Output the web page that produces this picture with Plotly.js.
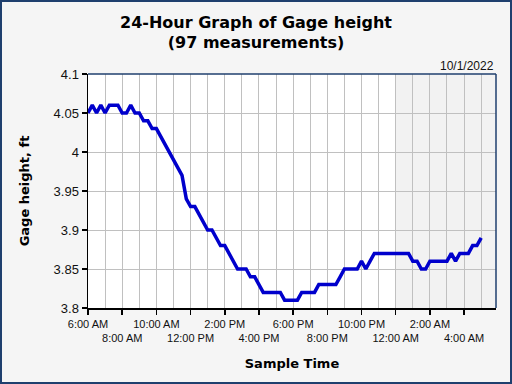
<!DOCTYPE html>
<html>
<head>
<meta charset="utf-8">
<script src="https://cdn.plot.ly/plotly-3.0.1.min.js"></script>
<style>
  html, body { margin: 0; padding: 0; background: #f5f5f5; }
  #wrap { position: relative; width: 512px; height: 384px; }
  #chart { width: 512px; height: 384px; }
  #frame { position: absolute; left: 0; top: 0; width: 508px; height: 380px;
           border: 2px solid #1f3f6e; pointer-events: none; }
</style>
</head>
<body>
<div id="wrap"><div id="chart"></div><div id="frame"></div></div>
<script>
// ---- data ----
const startTime = '2022-09-30 06:00';
const intervalMinutes = 15;
const gageHeight = [
  4.05, 4.06, 4.05, 4.06, 4.05, 4.06, 4.06, 4.06, 4.05, 4.05,
  4.06, 4.05, 4.05, 4.04, 4.04, 4.03, 4.03, 4.02, 4.01, 4.00,
  3.99, 3.98, 3.97, 3.94, 3.93, 3.93, 3.92, 3.91, 3.90, 3.90,
  3.89, 3.88, 3.88, 3.87, 3.86, 3.85, 3.85, 3.85, 3.84, 3.84,
  3.83, 3.82, 3.82, 3.82, 3.82, 3.82, 3.81, 3.81, 3.81, 3.81,
  3.82, 3.82, 3.82, 3.82, 3.83, 3.83, 3.83, 3.83, 3.83, 3.84,
  3.85, 3.85, 3.85, 3.85, 3.86, 3.85, 3.86, 3.87, 3.87, 3.87,
  3.87, 3.87, 3.87, 3.87, 3.87, 3.87, 3.86, 3.86, 3.85, 3.85,
  3.86, 3.86, 3.86, 3.86, 3.86, 3.87, 3.86, 3.87, 3.87, 3.87,
  3.88, 3.88, 3.89
];
const xTickVals = [
  '2022-09-30 06:00', '2022-09-30 08:00', '2022-09-30 10:00', '2022-09-30 12:00',
  '2022-09-30 14:00', '2022-09-30 16:00', '2022-09-30 18:00', '2022-09-30 20:00',
  '2022-09-30 22:00', '2022-10-01 00:00', '2022-10-01 02:00', '2022-10-01 04:00'
];
const xTickLabels = [
  '6:00 AM', '8:00 AM', '10:00 AM', '12:00 PM', '2:00 PM', '4:00 PM',
  '6:00 PM', '8:00 PM', '10:00 PM', '12:00 AM', '2:00 AM', '4:00 AM'
];
const yTickVals = [3.8, 3.85, 3.9, 3.95, 4.0, 4.05, 4.1];
const yTickLabels = ['3.8', '3.85', '3.9', '3.95', '4', '4.05', '4.1'];
const xRange = ['2022-09-30 06:00', '2022-10-01 05:52'];
const nightStart = '2022-10-01 00:00';
const dateLabel = '10/1/2022';
const titleText = '24-Hour Graph of Gage height<br>(97 measurements)';

// ---- build timestamps ----
function pad(n) { return (n < 10 ? '0' : '') + n; }
function fmt(d) {
  return d.getFullYear() + '-' + pad(d.getMonth() + 1) + '-' + pad(d.getDate()) +
    ' ' + pad(d.getHours()) + ':' + pad(d.getMinutes());
}
const t0 = new Date(startTime.replace(' ', 'T') + ':00');
const times = gageHeight.map((v, i) => fmt(new Date(t0.getTime() + i * intervalMinutes * 60000)));

const labels = xTickLabels.map((s, i) => (i % 2 === 1 ? '<br>' + s : s));

const trace = {
  x: times, y: gageHeight, type: 'scatter', mode: 'lines',
  line: { color: '#0000cc', width: 3.5 }, hoverinfo: 'skip'
};

const layout = {
  width: 512, height: 384,
  margin: { l: 88, r: 16, t: 74, b: 76 },
  paper_bgcolor: '#f5f5f5', plot_bgcolor: '#ffffff',
  showlegend: false,
  title: {
    text: titleText, x: 0.5, xref: 'container', xanchor: 'center',
    y: 0.928, yref: 'container', yanchor: 'top',
    font: { family: 'DejaVu Sans', size: 16, color: '#000000', weight: 'bold' }
  },
  xaxis: {
    type: 'date', range: xRange,
    tickmode: 'array', tickvals: xTickVals, ticktext: labels, tickangle: 0,
    ticks: 'outside', ticklen: 5, tickcolor: '#000', tickwidth: 1.5,
    showline: true, linecolor: '#000', linewidth: 1.5,
    showgrid: true, gridcolor: '#c0c0c0', gridwidth: 1,
    minor: { dtick: 3600000, showgrid: true, gridcolor: '#c0c0c0', gridwidth: 1, ticks: '' },
    zeroline: false,
    tickfont: { family: 'Liberation Sans', size: 11, color: '#111' },
    title: { text: 'Sample Time', standoff: 16,
      font: { family: 'DejaVu Sans', size: 13, color: '#000', weight: 'bold' } }
  },
  yaxis: {
    range: [3.8, 4.1],
    tickmode: 'array', tickvals: yTickVals, ticktext: yTickLabels,
    ticks: 'outside', ticklen: 5, tickcolor: '#000', tickwidth: 1.5,
    showline: true, linecolor: '#000', linewidth: 1.5,
    showgrid: true, gridcolor: '#c0c0c0', gridwidth: 1,
    zeroline: false,
    tickfont: { family: 'Liberation Sans', size: 13, color: '#111' },
    title: { text: 'Gage height, ft', standoff: 21,
      font: { family: 'DejaVu Sans', size: 13, color: '#000', weight: 'bold' } }
  },
  shapes: [
    { type: 'rect', xref: 'x', yref: 'paper', x0: nightStart, x1: xRange[1], y0: 0, y1: 1,
      fillcolor: '#f2f2f2', line: { width: 0 }, layer: 'below' },
    { type: 'line', xref: 'paper', yref: 'paper', x0: 0, x1: 1, y0: 1, y1: 1,
      line: { color: '#1f3f6e', width: 1.5 } },
    { type: 'line', xref: 'paper', yref: 'paper', x0: 1, x1: 1, y0: 0, y1: 1,
      line: { color: '#1f3f6e', width: 1.5 } }
  ],
  annotations: [
    { text: dateLabel, xref: 'paper', yref: 'paper', x: 1, y: 1,
      xanchor: 'right', yanchor: 'bottom', showarrow: false, yshift: -1,
      font: { family: 'Liberation Sans', size: 12, color: '#111' } }
  ]
};

Plotly.newPlot('chart', [trace], layout, { displayModeBar: false, staticPlot: true });
</script>
</body>
</html>
